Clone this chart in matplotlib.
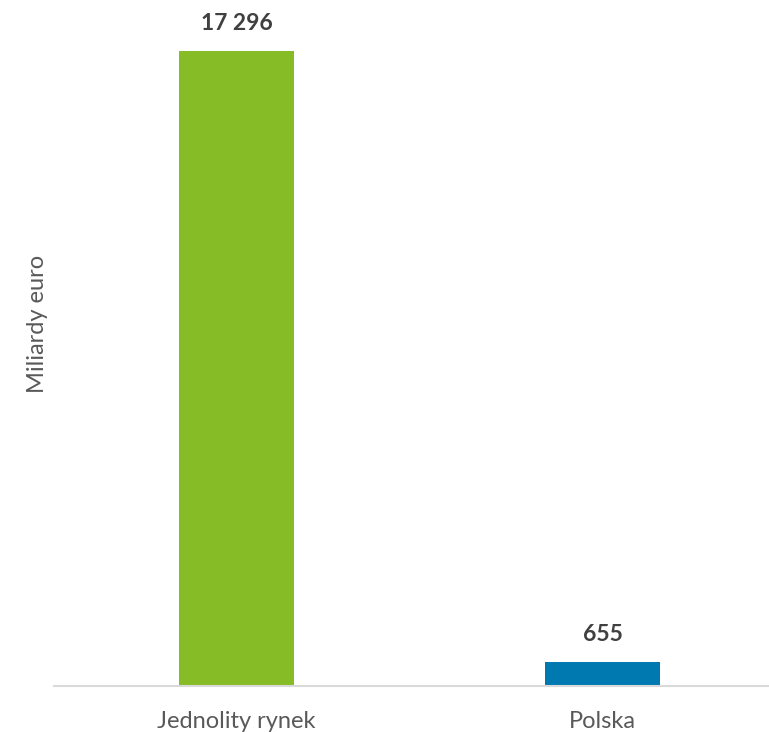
import matplotlib
matplotlib.use("Agg")
import matplotlib.pyplot as plt

categories = ["Jednolity rynek", "Polska"]
values = [17296, 655]
value_labels = ["17 296", "655"]
bar_colors = ["#86bc25", "#0079b0"]
y_label = "Miliardy euro"

W, H = 769, 732
fig = plt.figure(figsize=(W / 100, H / 100), dpi=100)

# axes placed in pixel terms: baseline at y=686, left edge at x=53.5
left_px, bottom_px, right_px, top_px = 53.5, 46, 769, 732
ax = fig.add_axes([left_px / W, bottom_px / H, (right_px - left_px) / W, (top_px - bottom_px) / H])

slot = 366.0
ax.set_xlim(-0.5, 1 + (right_px - (left_px + 1.5 * slot)) / slot)
ax.set_ylim(0, values[0] * (top_px - bottom_px) / 635)

bars = ax.bar(range(len(categories)), values, width=115 / slot, color=bar_colors, zorder=2)

font = ["Lato", "DejaVu Sans"]
for b, lab in zip(bars, value_labels):
    ax.annotate(lab, (b.get_x() + b.get_width() / 2, b.get_height()),
                xytext=(0, 12), textcoords="offset points", ha="center", va="bottom",
                fontsize=16.5, fontweight="bold", color="#404040", family=font)

for s in ["top", "right", "left"]:
    ax.spines[s].set_visible(False)
ax.spines["bottom"].set_color("#d9d9d9")
ax.spines["bottom"].set_linewidth(1.5)
ax.set_yticks([])
ax.set_xticks(range(len(categories)))
ax.set_xticklabels(categories, fontsize=17, color="#595959", family=font)
ax.tick_params(axis="x", length=0, pad=18)

fig.text(37 / W, 1 - 324 / H, y_label, rotation=90, ha="center", va="center",
         fontsize=17, color="#595959", family=font)

fig.savefig("out.png", dpi=100, facecolor="white")
